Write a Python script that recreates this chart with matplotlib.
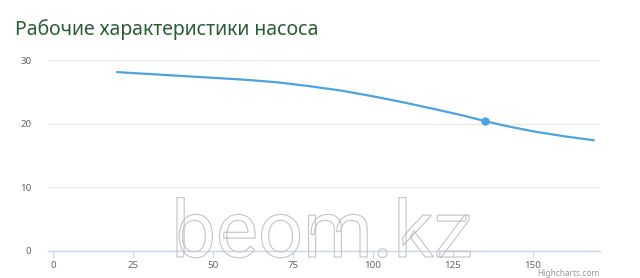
import matplotlib
matplotlib.use("Agg")
import matplotlib.pyplot as plt
import matplotlib.patheffects as pe

title = "Рабочие характеристики насоса"
flow = [20, 30, 40, 50, 60, 70, 80, 90, 100, 110, 120, 128, 135, 142, 150, 160, 169]
head = [28.1, 27.8, 27.5, 27.2, 26.9, 26.5, 25.9, 25.2, 24.3, 23.3, 22.2, 21.3, 20.4, 19.6, 18.8, 18.0, 17.4]
marker_x = [135]
marker_y = [20.4]
xticks = [0, 25, 50, 75, 100, 125, 150]
yticks = [0, 10, 20, 30]

plt.rcParams['font.family'] = ['Noto Sans', 'DejaVu Sans']
fig = plt.figure(figsize=(6.4, 2.78), dpi=100)
ax = fig.add_axes([48/640, 27/278, 552/640, 191/278])

ax.plot(flow, head, color='#4ca3df', lw=1.6, solid_capstyle='round', zorder=3)
ax.plot(marker_x, marker_y, 'o', color='#4ca3df', ms=5, zorder=4)

ax.set_xlim(-5/3.2, 547/3.2)
ax.set_ylim(0, 30)
ax.set_xticks(xticks)
ax.set_yticks(yticks)
ax.grid(axis='y', color='#e6e6e6', lw=0.8)
ax.set_axisbelow(True)
for s in ['top', 'right', 'left']:
    ax.spines[s].set_visible(False)
ax.spines['bottom'].set_color('#ccd6eb')
ax.spines['bottom'].set_linewidth(1)
ax.tick_params(axis='x', colors='#ccd6eb', length=5, width=0.8, labelcolor='#666666', labelsize=7, pad=2)
ax.tick_params(axis='y', length=0, labelcolor='#666666', labelsize=7, pad=12)

fig.text(15/640, 1 - 30/278, title, color='#285e36', fontsize=14, va='center', ha='left')
fig.text(600/640, 1 - 273/278, "Highcharts.com", color='#999999', fontsize=6, ha='right', va='center')

fig.text(322/640, 1 - 257/278, "beom.kz", fontsize=57, ha='center', va='baseline',
         family='Roboto', fontweight='normal',
         color=(1, 1, 1, 0), zorder=10,
         path_effects=[pe.Stroke(linewidth=0.8, foreground='#c4c4c4')])

fig.savefig("out.png", dpi=100, facecolor='white')
